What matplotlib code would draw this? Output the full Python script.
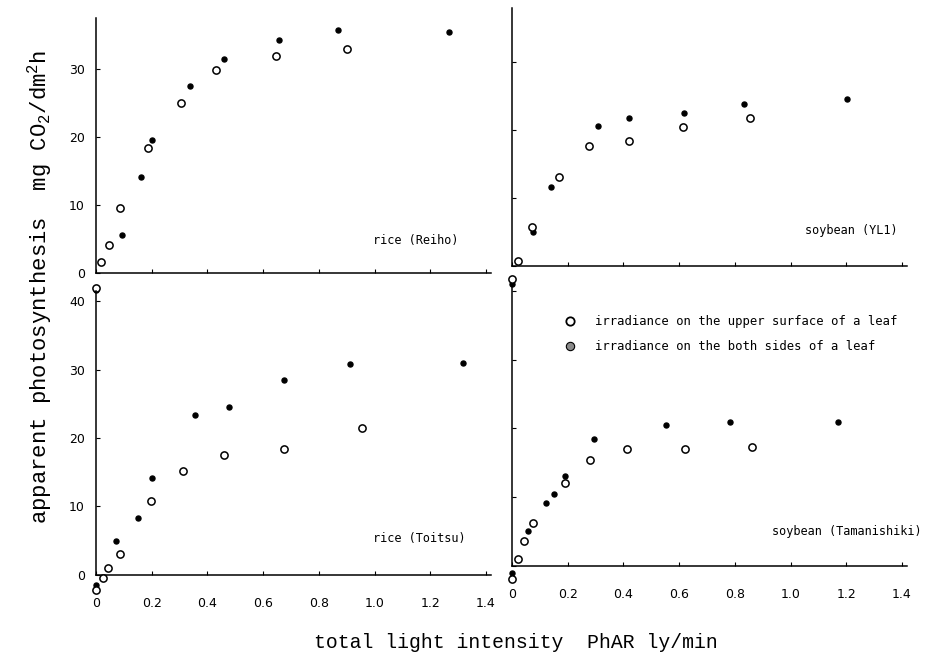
import matplotlib
matplotlib.use("Agg")
import matplotlib.pyplot as plt
from matplotlib.lines import Line2D

# === DATA (light intensity ly/min, photosynthesis mg CO2/dm2 h) ===
# rice (Reiho)
reiho_up_x = [0.0, 0.017, 0.048, 0.087, 0.188, 0.305, 0.431, 0.647, 0.90]
reiho_up_y = [-2.2, 1.6, 4.1, 9.6, 18.4, 25.0, 29.8, 31.9, 32.9]
reiho_both_x = [0.0, 0.092, 0.16, 0.201, 0.338, 0.461, 0.657, 0.87, 1.266]
reiho_both_y = [-2.5, 5.6, 14.1, 19.5, 27.5, 31.4, 34.2, 35.7, 35.4]

# soybean (YL1)
yl1_up_x = [0.0, 0.02, 0.071, 0.168, 0.276, 0.42, 0.614, 0.856]
yl1_up_y = [-2.0, 0.7, 5.7, 13.0, 17.6, 18.4, 20.4, 21.8]
yl1_both_x = [0.0, 0.076, 0.139, 0.308, 0.419, 0.618, 0.832, 1.204]
yl1_both_y = [-2.8, 4.9, 11.6, 20.6, 21.8, 22.5, 23.8, 24.6]

# rice (Toitsu)
toitsu_up_x = [0.0, 0.026, 0.043, 0.085, 0.196, 0.311, 0.459, 0.676, 0.954]
toitsu_up_y = [-2.2, -0.55, 0.9, 3.0, 10.7, 15.1, 17.5, 18.3, 21.5]
toitsu_both_x = [0.0, 0.072, 0.15, 0.2, 0.357, 0.478, 0.676, 0.911, 1.318]
toitsu_both_y = [-1.5, 4.9, 8.3, 14.1, 23.3, 24.5, 28.5, 30.8, 30.9]

# soybean (Tamanishiki)
tama_up_x = [0.0, 0.023, 0.042, 0.075, 0.19, 0.281, 0.413, 0.621, 0.863]
tama_up_y = [-1.9, 0.95, 3.5, 6.2, 12.0, 15.3, 17.0, 16.9, 17.3]
tama_both_x = [0.0, 0.057, 0.121, 0.151, 0.19, 0.296, 0.552, 0.784, 1.17]
tama_both_y = [-1.1, 5.05, 9.1, 10.4, 13.1, 18.4, 20.4, 20.9, 20.9]

panel_names = ["rice (Reiho)", "soybean (YL1)", "rice (Toitsu)", "soybean (Tamanishiki)"]
x_ticks = [0, 0.2, 0.4, 0.6, 0.8, 1.0, 1.2, 1.4]
x_tick_labels = ["0", "0.2", "0.4", "0.6", "0.8", "1.0", "1.2", "1.4"]
legend_labels = ["irradiance on the upper surface of a leaf",
                 "irradiance on the both sides of a leaf"]

# === LAYOUT (pixel based) ===
W, H = 927, 653
PX_PER_X = 278.5
XMAX = 1.42

plt.rcParams["mathtext.default"] = "regular"
fig = plt.figure(figsize=(W / 100, H / 100), dpi=100)


def make_axes(x0, base, top):
    width = XMAX * PX_PER_X
    return fig.add_axes([x0 / W, (H - base) / H, width / W, (base - top) / H])


panels = [
    (make_axes(96, 273, 18), 37.5, reiho_up_x, reiho_up_y, reiho_both_x, reiho_both_y),
    (make_axes(512, 265.5, 8), 38.0, yl1_up_x, yl1_up_y, yl1_both_x, yl1_both_y),
    (make_axes(96, 574.5, 291), 41.5, toitsu_up_x, toitsu_up_y, toitsu_both_x, toitsu_both_y),
    (make_axes(512, 565.5, 284), 41.0, tama_up_x, tama_up_y, tama_both_x, tama_both_y),
]

label_pos = [(0.995, 4.85), (1.052, 5.1), (0.995, 5.2), (0.934, 4.9)]

for i, (ax, ytop, ux, uy, bx, by) in enumerate(panels):
    ax.set_xlim(0, XMAX)
    ax.set_ylim(0, ytop)
    ax.patch.set_visible(False)
    for s in ["top", "right"]:
        ax.spines[s].set_visible(False)
    for s in ["left", "bottom"]:
        ax.spines[s].set_linewidth(1.1)

    ax.plot(bx, by, "o", color="black", ms=3.6, clip_on=False, zorder=3)
    ax.plot(ux, uy, "o", mfc="white", mec="black", ms=5.2, mew=1.1,
            clip_on=False, zorder=4)

    ax.set_xticks(x_ticks)
    ax.set_yticks(range(0, int(ytop) + 1, 10))
    ax.tick_params(direction="in", length=3, width=0.8)
    if i >= 2:
        ax.set_xticklabels(x_tick_labels, fontsize=9)
        ax.tick_params(axis="x", pad=16)
    else:
        ax.set_xticklabels([])
    if i % 2 == 0:
        ax.tick_params(axis="y", labelsize=9, pad=8)
    else:
        ax.set_yticklabels([])

    lx, ly = label_pos[i]
    ax.text(lx, ly, panel_names[i], fontsize=8.6, family="DejaVu Sans Mono",
            ha="left", va="center")

# legend inside soybean (Tamanishiki)
handles = [
    Line2D([], [], ls="none", marker="o", mfc="white", mec="black", ms=6, mew=1.3),
    Line2D([], [], ls="none", marker="o", mfc="#8a8a8a", mec="black", ms=6, mew=0.8),
]
fig.legend(handles, legend_labels, loc="upper left",
           bbox_to_anchor=(564 / W, 1 - 315 / H), frameon=False,
           prop={"family": "DejaVu Sans Mono", "size": 8.8},
           handlelength=1.0, handletextpad=1.5, labelspacing=1.0,
           borderpad=0, borderaxespad=0)

# axis titles
fig.text(40 / W, 1 - 287 / H, "apparent photosynthesis  mg CO$_2$/dm$^2$h",
         rotation=90, ha="center", va="center", fontsize=16,
         family="Liberation Mono")
fig.text(516 / W, 1 - 642 / H, "total light intensity  PhAR ly/min",
         ha="center", va="center", fontsize=14.2, family="Liberation Mono")

fig.savefig("out.png", dpi=100)
